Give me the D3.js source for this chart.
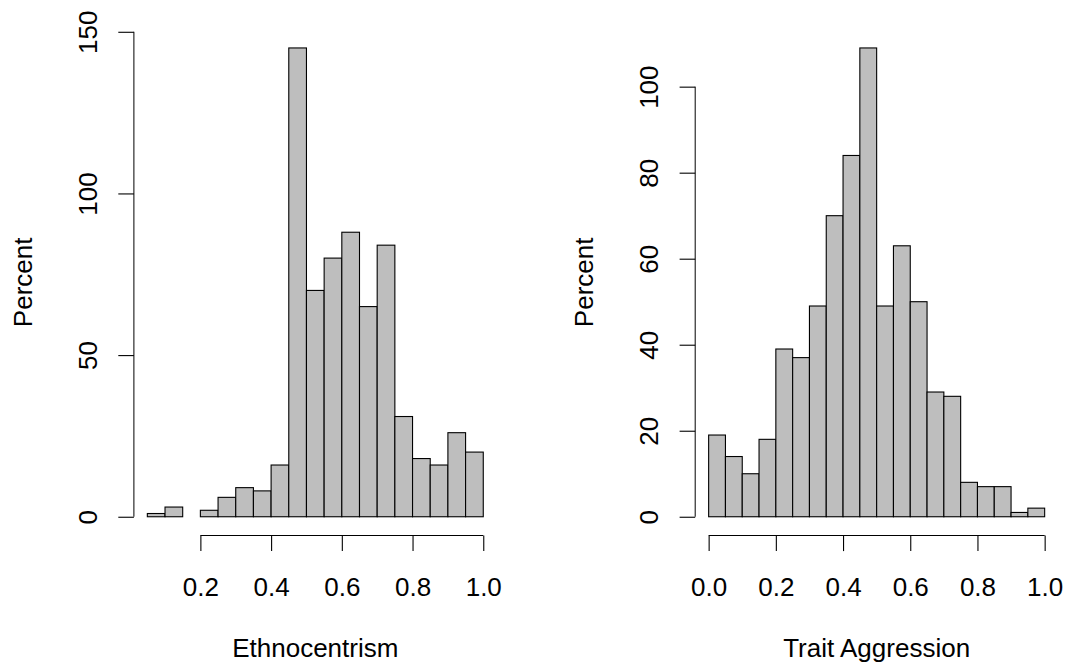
<!DOCTYPE html>
<html>
<head>
<meta charset="utf-8">
<script src="https://cdn.jsdelivr.net/npm/d3@7"></script>
<style>
  body { margin: 0; background: #fff; }
  svg text { font-family: "Liberation Sans", Arial, Helvetica, sans-serif; fill: #000; }
</style>
</head>
<body>
<div id="chart"></div>
<script>
// histogram data
const ethnoBreaks = [0.05, 0.10, 0.15, 0.20, 0.25, 0.30, 0.35, 0.40, 0.45, 0.50,
                     0.55, 0.60, 0.65, 0.70, 0.75, 0.80, 0.85, 0.90, 0.95, 1.00];
const ethnoCounts = [1, 3, 0, 2, 6, 9, 8, 16, 145, 70, 80, 88, 65, 84, 31, 18, 16, 26, 20];
const ethnoXTicks = [0.2, 0.4, 0.6, 0.8, 1.0];
const ethnoYTicks = [0, 50, 100, 150];

const aggrBreaks = [0.00, 0.05, 0.10, 0.15, 0.20, 0.25, 0.30, 0.35, 0.40, 0.45, 0.50,
                    0.55, 0.60, 0.65, 0.70, 0.75, 0.80, 0.85, 0.90, 0.95, 1.00];
const aggrCounts = [19, 14, 10, 18, 39, 37, 49, 70, 84, 109, 49, 63, 50, 29, 28, 8, 7, 7, 1, 2];
const aggrXTicks = [0.0, 0.2, 0.4, 0.6, 0.8, 1.0];
const aggrYTicks = [0, 20, 40, 60, 80, 100];

const width = 1067;
const height = 669;
const fontSize = 26;

const svg = d3.select("#chart")
    .append("svg")
    .attr("width", width)
    .attr("height", height);

// one R-style histogram panel
function panel(opts) {
    const {left, right, top, bottom, breaks, counts, xTicks, yTicks, xLabel, yLabel} = opts;

    // R pads the data range by 4% on each side
    const xmin = breaks[0], xmax = breaks[breaks.length - 1];
    const xpad = (xmax - xmin) * 0.04;
    const ymax = d3.max(counts);
    const ypad = ymax * 0.04;

    const x = d3.scaleLinear().domain([xmin - xpad, xmax + xpad]).range([left, right]);
    const y = d3.scaleLinear().domain([-ypad, ymax + ypad]).range([bottom, top]);

    const bins = counts.map((c, i) => ({x0: breaks[i], x1: breaks[i + 1], n: c}));

    const g = svg.append("g");

    g.selectAll("rect.bar")
        .data(bins)
        .enter()
        .append("rect")
        .attr("class", "bar")
        .attr("x", d => x(d.x0))
        .attr("width", d => x(d.x1) - x(d.x0))
        .attr("y", d => y(d.n))
        .attr("height", d => y(0) - y(d.n))
        .attr("fill", "#bebebe")
        .attr("stroke", "#000")
        .attr("stroke-width", 1.1);

    // x axis at bottom of plot region
    const xa = g.append("g")
        .attr("transform", "translate(0," + bottom + ")")
        .call(d3.axisBottom(x).tickValues(xTicks).tickSize(15.6).tickSizeOuter(0)
            .tickFormat(d3.format(".1f")));
    xa.select(".domain").remove();
    xa.append("line")
        .attr("x1", x(xTicks[0])).attr("x2", x(xTicks[xTicks.length - 1]))
        .attr("stroke", "#000");
    xa.selectAll(".tick line").attr("stroke", "#000").attr("stroke-width", 1.1);
    xa.selectAll(".tick text")
        .attr("y", 60)
        .attr("dy", null)
        .style("font-size", fontSize + "px")
        .style("font-family", "Liberation Sans, Arial, sans-serif")
        .attr("fill", "#000");

    // y axis at left of plot region, labels rotated like R
    const ya = g.append("g")
        .attr("transform", "translate(" + left + ",0)")
        .call(d3.axisLeft(y).tickValues(yTicks).tickSize(15.6).tickSizeOuter(0));
    ya.select(".domain").remove();
    ya.append("line")
        .attr("y1", y(yTicks[0])).attr("y2", y(yTicks[yTicks.length - 1]))
        .attr("stroke", "#000");
    ya.selectAll(".tick line").attr("stroke", "#000").attr("stroke-width", 1.1);
    ya.selectAll(".tick text")
        .attr("x", null)
        .attr("dy", null)
        .attr("text-anchor", "middle")
        .attr("transform", "translate(-37,0) rotate(-90)")
        .style("font-size", fontSize + "px")
        .style("font-family", "Liberation Sans, Arial, sans-serif")
        .attr("fill", "#000");

    g.append("text")
        .attr("x", (left + right) / 2)
        .attr("y", bottom + 121)
        .attr("text-anchor", "middle")
        .style("font-size", fontSize + "px")
        .text(xLabel);

    g.append("text")
        .attr("transform", "translate(" + (left - 102) + "," + ((top + bottom) / 2) + ") rotate(-90)")
        .attr("text-anchor", "middle")
        .style("font-size", fontSize + "px")
        .text(yLabel);
}

panel({
    left: 133.9, right: 496.7, top: 29.2, bottom: 535.5,
    breaks: ethnoBreaks, counts: ethnoCounts,
    xTicks: ethnoXTicks, yTicks: ethnoYTicks,
    xLabel: "Ethnocentrism", yLabel: "Percent"
});

panel({
    left: 695.2, right: 1058.1, top: 29.2, bottom: 535.5,
    breaks: aggrBreaks, counts: aggrCounts,
    xTicks: aggrXTicks, yTicks: aggrYTicks,
    xLabel: "Trait Aggression", yLabel: "Percent"
});
</script>
</body>
</html>
